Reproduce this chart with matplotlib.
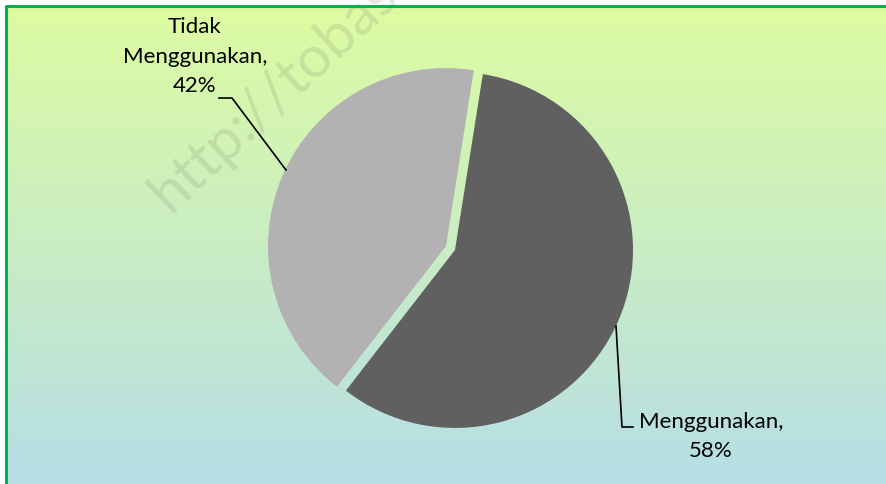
import numpy as np
import matplotlib
matplotlib.use("Agg")
import matplotlib.pyplot as plt

# ---- data ----
categories = ["Menggunakan", "Tidak Menggunakan"]
values = [58, 42]
label_lines = [["Menggunakan,", "58%"], ["Tidak", "Menggunakan,", "42%"]]
colors = ["#606060", "#B2B2B2"]
watermark = "http://tobas"

W, H = 886, 484
fig = plt.figure(figsize=(W / 100, H / 100), dpi=100)
fig.patch.set_facecolor("white")
ax = fig.add_axes([0, 0, 1, 1])

def py(y):
    return H - y

# gradient background
top = np.array([221, 252, 161]) / 255
bot = np.array([182, 222, 230]) / 255
t = np.linspace(0, 1, 256)[:, None]
grad = (top[None, :] * (1 - t) + bot[None, :] * t)[:, None, :]
ax.imshow(grad, extent=(6, W, py(H), py(6)), aspect="auto", zorder=0,
          interpolation="bilinear")

# border (top and left)
ax.plot([6, W], [py(6), py(6)], color="#00B050", lw=2.2, zorder=1,
        solid_capstyle="butt")
ax.plot([6, 6], [py(5), py(H)], color="#00B050", lw=2.2, zorder=1,
        solid_capstyle="butt")

# watermark
ax.text(170, py(214), watermark, rotation=43, rotation_mode="anchor",
        ha="left", va="baseline", fontsize=42, family="Lato",
        color="#7A8A70", alpha=0.2, zorder=1, clip_on=True)

# pie (explode offset in data units = pixels)
ax.pie(values, colors=colors, startangle=81, counterclock=False,
       center=(450.5, py(248)), radius=178, explode=[4.9, 4.9],
       frame=True, wedgeprops=dict(linewidth=0), normalize=True)
for p in ax.patches:
    p.set_zorder(2)

# leader lines
ax.plot([219, 232, 286], [py(98), py(98), py(170)], color="black", lw=1.2, zorder=3)
ax.plot([616, 622, 633], [py(326), py(427), py(427)], color="black", lw=1.2, zorder=3)

# labels
font = dict(family="Lato", fontsize=16, color="black", zorder=4)
for line, yb in zip(label_lines[1], [33, 63, 92]):
    ax.text(195, py(yb), line, ha="center", va="baseline", **font)
for line, yb in zip(label_lines[0], [428, 457]):
    ax.text(711, py(yb), line, ha="center", va="baseline", **font)

ax.set_xlim(0, W)
ax.set_ylim(0, H)
ax.set_aspect("auto")
ax.axis("off")

fig.savefig("out.png", dpi=100, facecolor="white")
